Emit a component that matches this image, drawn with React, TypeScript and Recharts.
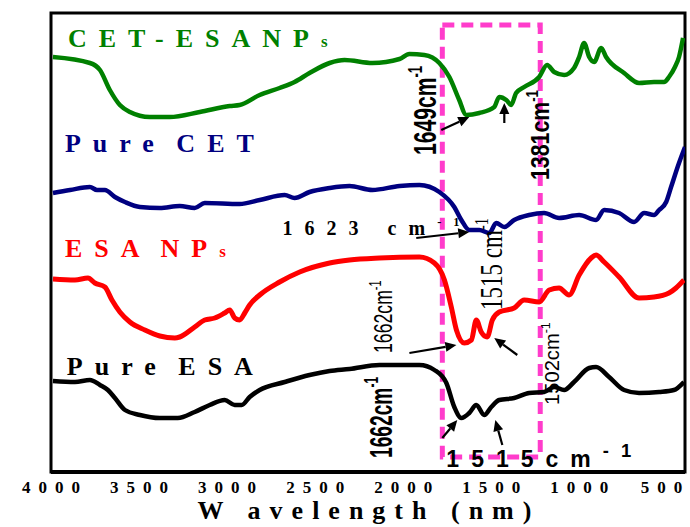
import {
  Line,
  LineChart,
  ReferenceArea,
  ReferenceDot,
  XAxis,
  YAxis,
} from "recharts";

// FTIR spectra, wavenumber (cm-1) vs. transmittance (arb. units, curves offset)
const wnTicks = [4000, 3500, 3000, 2500, 2000, 1500, 1000, 500];

const cetEsaWn = [3989, 3779, 3722, 3666, 3609, 3552, 3439, 3326, 3155, 2985, 2929, 2815, 2702, 2617, 2532, 2418, 2333, 2175, 2021, 1965, 1880, 1795, 1738, 1682, 1642, 1568, 1483, 1455, 1415, 1387, 1359, 1313, 1228, 1183, 1143, 1086, 1030, 1001, 973, 944, 916, 876, 848, 746, 661, 576, 519, 491, 457, 434, 411];
const cetEsaT = [415, 409, 402, 382, 367, 360, 355, 355, 360, 366, 367, 377, 384, 390, 399, 409, 412, 409, 413, 418, 417, 409, 395, 372, 357, 359, 365, 375, 372, 367, 379, 385, 395, 407, 400, 397, 404, 415, 429, 415, 410, 424, 415, 399, 389, 390, 390, 395, 405, 415, 434];

const cetWn = [3989, 3892, 3779, 3739, 3694, 3637, 3580, 3495, 3382, 3269, 3184, 3127, 2929, 2815, 2673, 2617, 2532, 2418, 2305, 2175, 2021, 1908, 1795, 1710, 1670, 1625, 1568, 1511, 1472, 1426, 1370, 1285, 1200, 1115, 1001, 905, 859, 774, 689, 632, 576, 547, 507, 479, 434, 400];
const cetT = [279, 282, 285, 282, 282, 275, 270, 265, 264, 266, 264, 269, 268, 272, 277, 274, 280, 284, 286, 282, 286, 287, 280, 265, 252, 242, 242, 239, 249, 245, 252, 257, 259, 254, 257, 252, 262, 259, 250, 259, 257, 262, 270, 285, 309, 325];

const esaNpWn = [3989, 3864, 3790, 3751, 3694, 3654, 3609, 3552, 3467, 3382, 3297, 3269, 3184, 3127, 3070, 3014, 2985, 2957, 2929, 2900, 2872, 2815, 2702, 2588, 2418, 2305, 2135, 1908, 1823, 1766, 1727, 1698, 1653, 1613, 1585, 1557, 1523, 1494, 1455, 1370, 1313, 1228, 1171, 1115, 1058, 1001, 933, 905, 859, 774, 661, 576, 491, 451, 406];
const esaNpT = [193, 192, 194, 189, 185, 172, 160, 150, 142, 136, 134, 135, 145, 152, 154, 159, 162, 154, 152, 159, 167, 177, 190, 200, 209, 212, 214, 215, 209, 192, 165, 142, 129, 132, 152, 140, 135, 152, 160, 164, 172, 170, 182, 184, 177, 197, 214, 217, 210, 195, 174, 175, 179, 184, 192];

const esaWn = [3989, 3864, 3779, 3722, 3677, 3637, 3580, 3495, 3382, 3280, 3184, 3099, 3014, 2957, 2917, 2872, 2815, 2673, 2532, 2418, 2305, 2135, 1908, 1823, 1755, 1710, 1670, 1625, 1585, 1540, 1500, 1455, 1370, 1285, 1200, 1143, 1086, 1030, 944, 905, 831, 746, 661, 547, 463, 406];
const esaT = [91, 90, 92, 87, 82, 74, 62, 57, 54, 54, 60, 67, 72, 67, 67, 75, 82, 90, 97, 101, 103, 107, 107, 102, 89, 65, 54, 59, 67, 57, 65, 72, 74, 79, 80, 85, 82, 90, 104, 105, 95, 82, 79, 80, 82, 90];

const zip = (wn: number[], t: number[]) => wn.map((w, i) => ({ wn: w, t: t[i] }));

const SERIF = '"Liberation Serif", "Times New Roman", serif';
const SANS = '"Liberation Sans", Arial, sans-serif';

const GREEN = "#008000";
const NAVY = "#000080";
const RED = "#ff0000";
const PINK = "#ff3ccb";

type SeriesLabel = { wn: number; t: number; text: string; tail: string; color: string };

const seriesLabels: SeriesLabel[] = [
  { wn: 3904, t: 425, text: "CET-ESANP", tail: "s", color: GREEN },
  { wn: 3921, t: 320, text: "Pure CET", tail: "", color: NAVY },
  { wn: 3921, t: 215, text: "ESA NP", tail: "s", color: RED },
  { wn: 3910, t: 97, text: "Pure ESA", tail: "", color: "#000" },
];

type PeakNote = {
  wn: number;
  t: number;
  text: string;
  rot: number;
  family: string;
  size: number;
  weight: number;
  squeeze?: number;
  spacing?: number;
  supScale?: number;
};

const peakNotes: PeakNote[] = [
  { wn: 1812, t: 317, text: "1649cm", rot: -90, family: SANS, size: 32, weight: 700, squeeze: 0.66 },
  { wn: 1171, t: 292, text: "1381cm", rot: -90, family: SANS, size: 26, weight: 700, squeeze: 0.82 },
  { wn: 2685, t: 237, text: "1623 cm", rot: 0, family: SERIF, size: 20, weight: 700, spacing: 12 },
  { wn: 1438, t: 162, text: "1515 cm", rot: -90, family: SERIF, size: 32, weight: 400, squeeze: 0.72 },
  { wn: 2061, t: 119, text: "1662cm", rot: -90, family: SANS, size: 26, weight: 400, squeeze: 0.68 },
  { wn: 2061, t: 14, text: "1662cm", rot: -90, family: SANS, size: 32, weight: 700, squeeze: 0.6 },
  { wn: 1755, t: 5, text: "1515cm", rot: 0, family: SANS, size: 23, weight: 700, spacing: 12, supScale: 0.8 },
  { wn: 1114, t: 67, text: "1502cm", rot: -90, family: SANS, size: 21, weight: 400, squeeze: 0.96 },
];

// arrow tip sits on the spectrum, tail offset in px
const arrows = [
  { wn: 1625, t: 355, dx: -28, dy: 13 },
  { wn: 1426, t: 369, dx: 0, dy: 20 },
  { wn: 1625, t: 240, dx: -53, dy: 6 },
  { wn: 1483, t: 134, dx: 23, dy: 17 },
  { wn: 1698, t: 127, dx: -47, dy: 8 },
  { wn: 1693, t: 52, dx: -15, dy: 18 },
  { wn: 1477, t: 52, dx: 7, dy: 25 },
];

const WnTick = (props: any) => {
  const { x, y, payload } = props;
  // last label sits against the right frame, keep it inside the page
  const shift = payload.value === 500 ? -2 : 4;
  return (
    <text
      x={x + shift}
      y={y + 13}
      textAnchor="middle"
      fontFamily={SERIF}
      fontWeight={700}
      fontSize={17}
      letterSpacing={8}
      fill="#000"
    >
      {payload.value}
    </text>
  );
};

const renderNote = (n: PeakNote) => (props: any) => {
  const { cx, cy } = props;
  const sq = n.squeeze ?? 1;
  const sup = n.size * (n.supScale ?? 0.62);
  return (
    <text
      transform={`translate(${cx},${cy}) rotate(${n.rot}) scale(${sq},1)`}
      fontFamily={n.family}
      fontWeight={n.weight}
      fontSize={n.size}
      letterSpacing={n.spacing ?? 0}
      fill="#000"
    >
      {n.text}
      <tspan fontSize={sup} dy={-n.size * 0.45}>
        -1
      </tspan>
    </text>
  );
};

const renderArrow = (a: { dx: number; dy: number }) => (props: any) => {
  const { cx, cy } = props;
  const x0 = cx + a.dx;
  const y0 = cy + a.dy;
  const ang = Math.atan2(cy - y0, cx - x0);
  const len = 11;
  const half = 5;
  const bx = cx - len * Math.cos(ang);
  const by = cy - len * Math.sin(ang);
  const px = -Math.sin(ang) * half;
  const py = Math.cos(ang) * half;
  return (
    <g>
      <line x1={x0} y1={y0} x2={bx} y2={by} stroke="#000" strokeWidth={2.2} />
      <polygon points={`${cx},${cy} ${bx + px},${by + py} ${bx - px},${by - py}`} fill="#000" />
    </g>
  );
};

const renderSeriesLabel = (s: SeriesLabel) => (props: any) => {
  const { cx, cy } = props;
  return (
    <text
      x={cx}
      y={cy}
      fontFamily={SERIF}
      fontWeight={700}
      fontSize={26}
      letterSpacing={12}
      wordSpacing={-8}
      fill={s.color}
    >
      {s.text}
      {s.tail && <tspan fontSize={17}>{s.tail}</tspan>}
    </text>
  );
};

export default function App() {
  return (
    <div style={{ position: "absolute", left: 0, top: 0, width: 690, height: 527, background: "#fff" }}>
      <LineChart
        width={690}
        height={527}
        margin={{ top: 13, right: 5, left: 51, bottom: 25 }}
      >
        <XAxis
          dataKey="wn"
          type="number"
          domain={[400, 4000]}
          reversed
          allowDataOverflow
          ticks={wnTicks}
          interval={0}
          tickLine={false}
          axisLine={{ stroke: "#000", strokeWidth: 4 }}
          tick={<WnTick />}
          height={30}
          label={{
            content: (p: any) => (
              <text
                x={p.viewBox.x + p.viewBox.width / 2 + 1}
                y={519}
                textAnchor="middle"
                fontFamily={SERIF}
                fontWeight={700}
                fontSize={26}
                letterSpacing={9}
                fill="#000"
              >
                W avelength (nm)
              </text>
            ),
          }}
        />
        <YAxis
          type="number"
          domain={[0, 459]}
          allowDataOverflow
          width={0}
          tick={false}
          tickLine={false}
          axisLine={{ stroke: "#000", strokeWidth: 4 }}
          label={{
            content: () => (
              <text
                transform="translate(31,241) rotate(-90)"
                textAnchor="middle"
                fontFamily={SERIF}
                fontWeight={700}
                fontSize={22}
                fill="#000"
              >
                Transmittance(%)
              </text>
            ),
          }}
        />
        <ReferenceArea
          x1={4000}
          x2={400}
          y1={0}
          y2={459}
          fill="none"
          stroke="#000"
          strokeWidth={3}
          ifOverflow="visible"
        />
        <ReferenceArea
          x1={1778}
          x2={1222}
          y1={15}
          y2={447}
          fill="none"
          stroke={PINK}
          strokeWidth={5}
          strokeDasharray="12 7"
          ifOverflow="visible"
        />
        <Line data={zip(cetEsaWn, cetEsaT)} dataKey="t" type="monotone" stroke={GREEN} strokeWidth={4.5} dot={false} isAnimationActive={false} />
        <Line data={zip(cetWn, cetT)} dataKey="t" type="monotone" stroke={NAVY} strokeWidth={4.5} dot={false} isAnimationActive={false} />
        <Line data={zip(esaNpWn, esaNpT)} dataKey="t" type="monotone" stroke={RED} strokeWidth={5} dot={false} isAnimationActive={false} />
        <Line data={zip(esaWn, esaT)} dataKey="t" type="monotone" stroke="#000" strokeWidth={4.5} dot={false} isAnimationActive={false} />
        {seriesLabels.map((s) => (
          <ReferenceDot key={s.text} x={s.wn} y={s.t} r={0} ifOverflow="visible" shape={renderSeriesLabel(s)} />
        ))}
        {peakNotes.map((n, i) => (
          <ReferenceDot key={"n" + i} x={n.wn} y={n.t} r={0} ifOverflow="visible" shape={renderNote(n)} />
        ))}
        {arrows.map((a, i) => (
          <ReferenceDot key={"a" + i} x={a.wn} y={a.t} r={0} ifOverflow="visible" shape={renderArrow(a)} />
        ))}
      </LineChart>
    </div>
  );
}
